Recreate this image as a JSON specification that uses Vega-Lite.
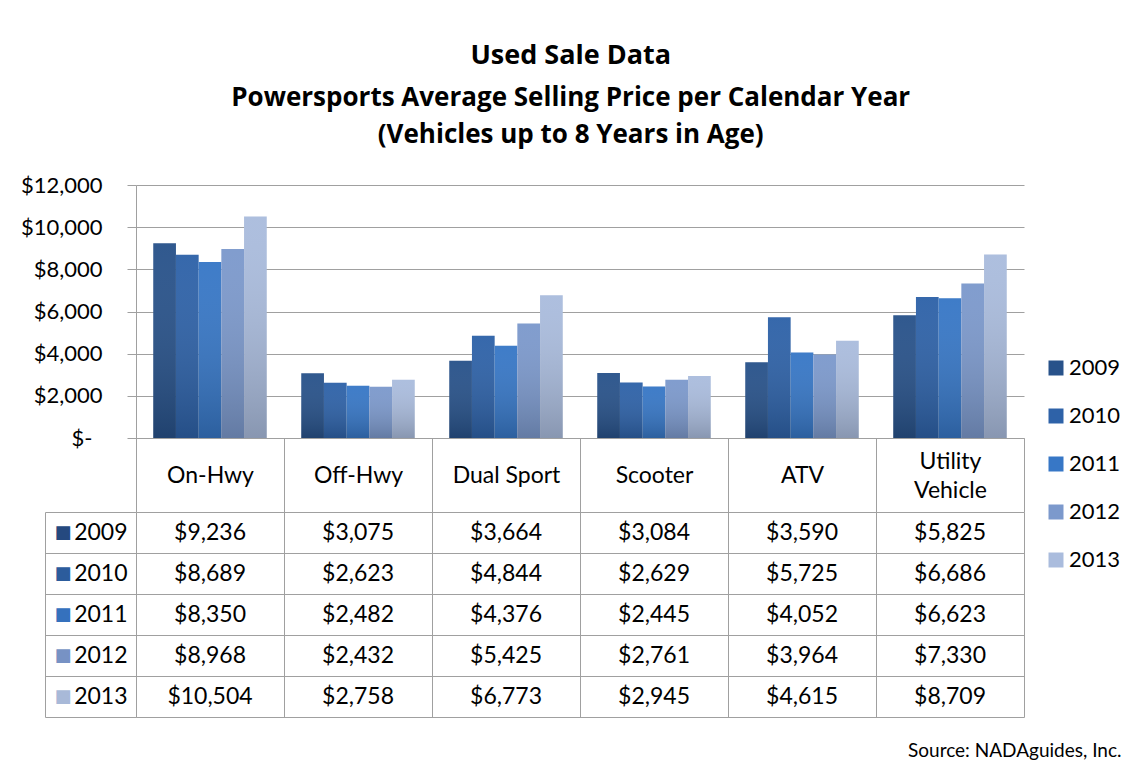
{
  "$schema": "https://vega.github.io/schema/vega-lite/v6.json",
  "padding": {"left": 20, "top": 42, "right": 10, "bottom": 5},
  "autosize": {"type": "pad"},
  "background": "white",
  "title": {
    "text": "Used Sale Data",
    "subtitle": ["Powersports Average Selling Price per Calendar Year", "(Vehicles up to 8 Years in Age)"],
    "font": "Open Sans", "fontSize": 27, "fontWeight": "bold", "color": "black",
    "subtitleFont": "Open Sans", "subtitleFontSize": 26, "subtitleFontWeight": "bold", "subtitleColor": "black",
    "subtitleLineHeight": 37, "subtitlePadding": 15, "anchor": "middle", "offset": 25
  },
  "data": {"values": [
    {"category": "On-Hwy", "year": "2009", "price": 9236},
    {"category": "On-Hwy", "year": "2010", "price": 8689},
    {"category": "On-Hwy", "year": "2011", "price": 8350},
    {"category": "On-Hwy", "year": "2012", "price": 8968},
    {"category": "On-Hwy", "year": "2013", "price": 10504},
    {"category": "Off-Hwy", "year": "2009", "price": 3075},
    {"category": "Off-Hwy", "year": "2010", "price": 2623},
    {"category": "Off-Hwy", "year": "2011", "price": 2482},
    {"category": "Off-Hwy", "year": "2012", "price": 2432},
    {"category": "Off-Hwy", "year": "2013", "price": 2758},
    {"category": "Dual Sport", "year": "2009", "price": 3664},
    {"category": "Dual Sport", "year": "2010", "price": 4844},
    {"category": "Dual Sport", "year": "2011", "price": 4376},
    {"category": "Dual Sport", "year": "2012", "price": 5425},
    {"category": "Dual Sport", "year": "2013", "price": 6773},
    {"category": "Scooter", "year": "2009", "price": 3084},
    {"category": "Scooter", "year": "2010", "price": 2629},
    {"category": "Scooter", "year": "2011", "price": 2445},
    {"category": "Scooter", "year": "2012", "price": 2761},
    {"category": "Scooter", "year": "2013", "price": 2945},
    {"category": "ATV", "year": "2009", "price": 3590},
    {"category": "ATV", "year": "2010", "price": 5725},
    {"category": "ATV", "year": "2011", "price": 4052},
    {"category": "ATV", "year": "2012", "price": 3964},
    {"category": "ATV", "year": "2013", "price": 4615},
    {"category": "Utility Vehicle", "year": "2009", "price": 5825},
    {"category": "Utility Vehicle", "year": "2010", "price": 6686},
    {"category": "Utility Vehicle", "year": "2011", "price": 6623},
    {"category": "Utility Vehicle", "year": "2012", "price": 7330},
    {"category": "Utility Vehicle", "year": "2013", "price": 8709}
  ]},
  "spacing": 74,
  "bounds": "flush",
  "config": {
    "font": "Lato",
    "view": {"stroke": null},
    "axis": {"labelFont": "Lato"}
  },
  "vconcat": [
    {
      "width": 888,
      "height": 253,
      "encoding": {
        "x": {
          "field": "category", "type": "nominal",
          "sort": ["On-Hwy", "Off-Hwy", "Dual Sport", "Scooter", "ATV", "Utility Vehicle"],
          "scale": {"paddingInner": 0, "paddingOuter": 0},
          "axis": {
            "title": null, "labelAngle": 0, "labelFontSize": 23,
            "labelPadding": {"condition": {"test": "datum.value == 'Utility Vehicle'", "value": -51}, "value": -37},
            "labelBaseline": "middle", "labelLineHeight": 29, "labelColor": "black",
            "labelExpr": "datum.label == 'Utility Vehicle' ? ['Utility', 'Vehicle'] : datum.label",
            "tickBand": "extent", "tickSize": 74, "tickColor": "#a0a0a0",
            "domainColor": "#a0a0a0", "grid": false
          }
        },
        "xOffset": {
          "field": "year", "type": "nominal",
          "scale": {"paddingInner": 0, "paddingOuter": 0.76}
        },
        "y": {
          "field": "price", "type": "quantitative",
          "scale": {"domain": [0, 12000]},
          "axis": {
            "title": null, "values": [0, 2000, 4000, 6000, 8000, 10000, 12000],
            "labelExpr": "datum.value == 0 ? '$-' : '$' + format(datum.value, ',')",
            "labelFontSize": 22,
            "labelPadding": {"condition": {"test": "datum.value == 0", "value": 35}, "value": 25},
            "tickSize": 9, "labelColor": "black",
            "gridColor": "#a0a0a0", "tickColor": "#a0a0a0", "domainColor": "#a0a0a0"
          }
        }
      },
      "layer": [
        {
          "mark": {"type": "bar"},
          "encoding": {
            "color": {
              "field": "year", "type": "nominal",
              "scale": {
                "domain": ["2009", "2010", "2011", "2012", "2013"],
                "range": ["#28528a", "#2e62a8", "#3777c6", "#7c99cc", "#aabcdd"]
              },
              "legend": {
                "title": null, "orient": "none", "legendX": 909, "legendY": 172,
                "symbolType": "square", "symbolSize": 225, "symbolStrokeWidth": 0,
                "labelFontSize": 22, "labelColor": "black", "rowPadding": 26, "labelOffset": 2
              }
            }
          }
        },
        {
          "mark": {
            "type": "bar",
            "fill": {
              "gradient": "linear", "x1": 0, "y1": 0, "x2": 0, "y2": 1,
              "stops": [
                {"offset": 0, "color": "rgba(255,255,255,0.04)"},
                {"offset": 1, "color": "rgba(0,0,0,0.2)"}
              ]
            }
          }
        }
      ]
    },
    {
      "width": 888,
      "height": 205,
      "encoding": {
        "x": {
          "field": "category", "type": "nominal",
          "sort": ["On-Hwy", "Off-Hwy", "Dual Sport", "Scooter", "ATV", "Utility Vehicle"],
          "scale": {"paddingInner": 0, "paddingOuter": 0},
          "axis": {
            "title": "Source: NADAguides, Inc.", "labels": false, "ticks": false, "domain": false,
            "grid": true, "tickBand": "extent", "gridColor": "#a0a0a0", "zindex": 1,
            "titleX": 985, "titleY": 39, "titleAlign": "right", "titleAnchor": "end",
            "titleBaseline": "alphabetic", "titleFontSize": 19, "titleFontWeight": "normal",
            "titleColor": "black", "titleFont": "Lato"
          }
        }
      },
      "layer": [
        {
          "mark": {"type": "rect", "fill": "white"},
          "encoding": {
            "y": {
              "field": "year", "type": "ordinal",
              "scale": {"paddingInner": 0, "paddingOuter": 0},
              "axis": {
                "orient": "left", "offset": 91, "title": null,
                "domain": true, "domainColor": "#a0a0a0",
                "ticks": false, "tickSize": 0, "grid": false,
                "labelExpr": "'■'", "labelFont": "DejaVu Sans", "labelFontSize": 18,
                "labelAlign": "left", "labelPadding": -9, "labelBaseline": "middle", "zindex": 1,
                "labelColor": {
                  "condition": [
                    {"test": "datum.value == '2009'", "value": "#25497f"},
                    {"test": "datum.value == '2010'", "value": "#2c5c9c"},
                    {"test": "datum.value == '2011'", "value": "#3571bd"},
                    {"test": "datum.value == '2012'", "value": "#7792c4"}
                  ],
                  "value": "#a8b9d8"
                }
              }
            }
          }
        },
        {
          "mark": {"type": "text", "fontSize": 23, "color": "black", "font": "Lato"},
          "encoding": {
            "y": {
              "field": "year", "type": "ordinal",
              "scale": {"paddingInner": 0, "paddingOuter": 0},
              "axis": {
                "orient": "left", "title": null,
                "domain": true, "domainColor": "#a0a0a0",
                "ticks": true, "tickBand": "extent", "tickSize": 91, "tickColor": "#a0a0a0",
                "grid": true, "gridColor": "#a0a0a0", "labelColor": "black",
                "labelFontSize": 23, "labelPadding": -82, "labelAlign": "right",
                "labelBaseline": "middle", "zindex": 1
              }
            },
            "text": {"field": "price", "type": "quantitative", "format": "$,"}
          }
        }
      ],
      "resolve": {"axis": {"y": "independent"}}
    }
  ]
}
